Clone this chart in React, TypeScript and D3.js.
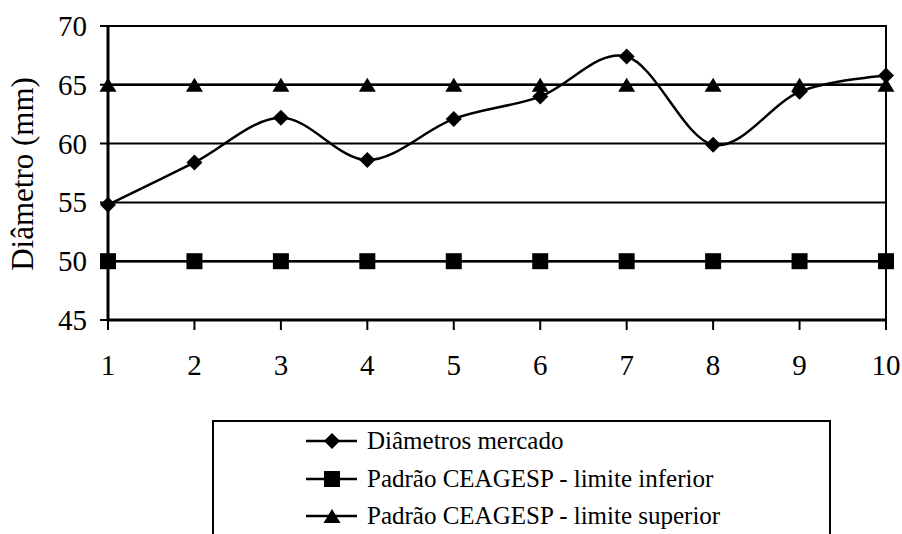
import React, { useEffect, useRef } from "react";
import * as d3 from "d3";

// Data
const amostras = [1, 2, 3, 4, 5, 6, 7, 8, 9, 10];
const diametrosMercado = [54.8, 58.4, 62.2, 58.6, 62.1, 64.0, 67.4, 59.9, 64.4, 65.8];
const limiteInferior = [50, 50, 50, 50, 50, 50, 50, 50, 50, 50];
const limiteSuperior = [65, 65, 65, 65, 65, 65, 65, 65, 65, 65];
const yTicks = [45, 50, 55, 60, 65, 70];
const legendLabels = [
  "Diâmetros mercado",
  "Padrão CEAGESP - limite inferior",
  "Padrão CEAGESP - limite superior",
];

const FONT = "'Liberation Serif', 'Times New Roman', serif";

export default function App() {
  const containerRef = useRef<HTMLDivElement>(null);

  useEffect(() => {
    drawChart();
  }, []);

  function drawChart() {
    const width = 902;
    const height = 534;
    const left = 108,
      right = 886,
      top = 26,
      bottom = 320;

    d3.select(containerRef.current).selectAll("*").remove();

    const svg = d3
      .select(containerRef.current)
      .append("svg")
      .attr("width", width)
      .attr("height", height)
      .style("display", "block")
      .style("background", "#fff");

    const x = d3.scaleLinear().domain([1, 10]).range([left, right]);
    const y = d3.scaleLinear().domain([45, 70]).range([bottom, top]);

    // gridlines + y ticks
    svg
      .append("g")
      .selectAll("line")
      .data(yTicks)
      .join("line")
      .attr("x1", left - 8)
      .attr("x2", right)
      .attr("y1", (d) => y(d))
      .attr("y2", (d) => y(d))
      .attr("stroke", "#000")
      .attr("stroke-width", 2);

    // x ticks
    svg
      .append("g")
      .selectAll("line")
      .data(amostras)
      .join("line")
      .attr("x1", (d) => x(d))
      .attr("x2", (d) => x(d))
      .attr("y1", bottom)
      .attr("y2", bottom + 10)
      .attr("stroke", "#000")
      .attr("stroke-width", 2);

    // axes / frame
    svg
      .append("line")
      .attr("x1", left)
      .attr("x2", left)
      .attr("y1", top)
      .attr("y2", bottom)
      .attr("stroke", "#000")
      .attr("stroke-width", 3);
    svg
      .append("line")
      .attr("x1", left)
      .attr("x2", right)
      .attr("y1", bottom)
      .attr("y2", bottom)
      .attr("stroke", "#000")
      .attr("stroke-width", 3);
    svg
      .append("line")
      .attr("x1", right)
      .attr("x2", right)
      .attr("y1", top - 1)
      .attr("y2", bottom)
      .attr("stroke", "#000")
      .attr("stroke-width", 2);

    // tick labels
    svg
      .append("g")
      .attr("font-family", FONT)
      .attr("font-size", 29)
      .attr("text-anchor", "end")
      .selectAll("text")
      .data(yTicks)
      .join("text")
      .attr("x", 87)
      .attr("y", (d) => y(d) + 10)
      .text((d) => d);

    svg
      .append("g")
      .attr("font-family", FONT)
      .attr("font-size", 29)
      .attr("text-anchor", "middle")
      .selectAll("text")
      .data(amostras)
      .join("text")
      .attr("x", (d) => x(d))
      .attr("y", 375)
      .text((d) => d);

    svg
      .append("text")
      .attr("font-family", FONT)
      .attr("font-size", 31)
      .attr("text-anchor", "middle")
      .attr("transform", "translate(33,174) rotate(-90)")
      .text("Diâmetro (mm)");

    // symbols
    const diamond = (g, cx, cy) =>
      g
        .append("path")
        .attr("d", `M${cx},${cy - 8}L${cx + 8},${cy}L${cx},${cy + 8}L${cx - 8},${cy}Z`)
        .attr("fill", "#000");
    const square = (g, cx, cy) =>
      g
        .append("rect")
        .attr("x", cx - 8)
        .attr("y", cy - 8)
        .attr("width", 16)
        .attr("height", 16)
        .attr("fill", "#000");
    const triangle = (g, cx, cy) =>
      g
        .append("path")
        .attr("d", `M${cx},${cy - 7}L${cx + 8.5},${cy + 7}L${cx - 8.5},${cy + 7}Z`)
        .attr("fill", "#000");

    const series = [
      { values: diametrosMercado, marker: diamond, curve: d3.curveCardinal.tension(0) },
      { values: limiteInferior, marker: square, curve: d3.curveLinear },
      { values: limiteSuperior, marker: triangle, curve: d3.curveLinear },
    ];

    series.forEach((s) => {
      const line = d3
        .line<number>()
        .x((_, i) => x(amostras[i]))
        .y((d) => y(d))
        .curve(s.curve);
      svg
        .append("path")
        .attr("d", line(s.values))
        .attr("fill", "none")
        .attr("stroke", "#000")
        .attr("stroke-width", 2.5);
      const g = svg.append("g");
      s.values.forEach((v, i) => s.marker(g, x(amostras[i]), y(v)));
    });

    // legend
    const lg = svg.append("g");
    lg.append("rect")
      .attr("x", 213)
      .attr("y", 421)
      .attr("width", 830 - 213)
      .attr("height", 140)
      .attr("fill", "#fff")
      .attr("stroke", "#000")
      .attr("stroke-width", 2);

    const rowY = [441, 479, 516];
    legendLabels.forEach((label, i) => {
      lg.append("line")
        .attr("x1", 306)
        .attr("x2", 357)
        .attr("y1", rowY[i])
        .attr("y2", rowY[i])
        .attr("stroke", "#000")
        .attr("stroke-width", 2.5);
      series[i].marker(lg, 332, rowY[i]);
      lg.append("text")
        .attr("x", 367)
        .attr("y", rowY[i] + 8)
        .attr("font-family", FONT)
        .attr("font-size", 25)
        .text(label);
    });
  }

  return (
    <div style={{ position: "absolute", left: 0, top: 0 }}>
      <div ref={containerRef}></div>
    </div>
  );
}
